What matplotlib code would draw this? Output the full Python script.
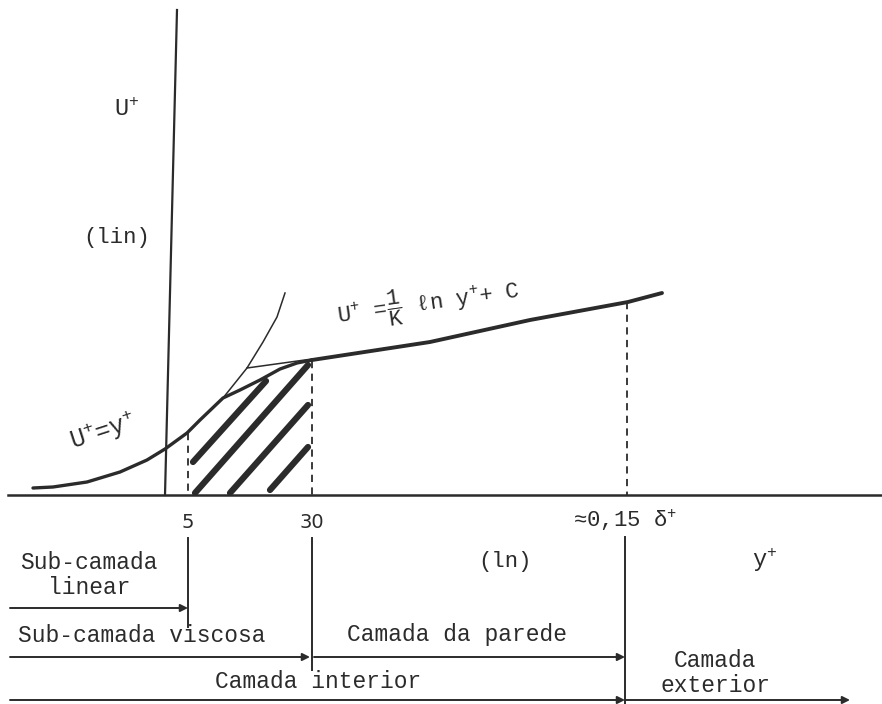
import numpy as np
import matplotlib.pyplot as plt

# pontos (coordenadas do desenho: x para a direita, y para baixo)
visc_x = [33, 53, 87, 120, 147, 165, 187, 200, 223, 240, 260, 280, 297, 312]
visc_y = [488, 487, 482, 472, 460, 449, 433, 420, 398, 390, 380, 369, 363, 360]

lin_ext_x = [200, 223, 247, 263, 277, 285]
lin_ext_y = [420, 398, 368, 342, 317, 293]

log_ext_x = [247, 312]
log_ext_y = [368, 359]

log_x = [312, 430, 530, 628, 662]
log_y = [360, 342, 320, 302, 293]

hatch = [((193, 462), (266, 381)),
         ((195, 493), (308, 365)),
         ((230, 493), (308, 405)),
         ((270, 490), (308, 447))]

# limites das camadas
y_5, y_30, y_out = 188, 312, 627
dash_top = [433, 361, 302]

ink = "#2b2b2b"
plt.rcParams["font.family"] = ["Liberation Mono", "DejaVu Sans"]
plt.rcParams["mathtext.fontset"] = "custom"
plt.rcParams["mathtext.rm"] = "Liberation Mono"
plt.rcParams["mathtext.it"] = "Liberation Mono"

fig = plt.figure(figsize=(8.82, 7.04), dpi=100)
ax = fig.add_axes([0, 0, 1, 1])
ax.set_xlim(0, 882)
ax.set_ylim(704, 0)
ax.axis("off")

# eixos
ax.plot([177, 165], [10, 495], color=ink, lw=1.6)
ax.plot([8, 882], [495, 495], color=ink, lw=1.8)

# curvas
ax.plot(visc_x, visc_y, color=ink, lw=2.4, solid_capstyle="round")
ax.plot(lin_ext_x, lin_ext_y, color=ink, lw=1.1)
ax.plot(log_ext_x, log_ext_y, color=ink, lw=1.1)
ax.plot(log_x, log_y, color=ink, lw=2.8, solid_capstyle="round")

# tracejado
for xv, yt in zip([y_5, y_30, y_out], dash_top):
    ax.plot([xv, xv], [yt, 495], color=ink, lw=1.3, ls=(0, (4, 3)))

# hachura
for (x0, y0), (x1, y1) in hatch:
    ax.plot([x0, x1], [y0, y1], color=ink, lw=4.5, solid_capstyle="round")

# separadores abaixo do eixo
ax.plot([y_5, y_5], [538, 627], color=ink, lw=1.4)
ax.plot([y_30, y_30], [538, 670], color=ink, lw=1.4)
ax.plot([y_out - 2, y_out - 2], [537, 704], color=ink, lw=1.4)

# setas
arr = dict(arrowstyle="-|>", color=ink, lw=1.4, mutation_scale=11, shrinkA=0, shrinkB=0)
ax.annotate("", xy=(y_5, 608), xytext=(10, 608), arrowprops=arr)
ax.annotate("", xy=(y_30 - 2, 657), xytext=(10, 657), arrowprops=arr)
ax.annotate("", xy=(y_out - 2, 657), xytext=(y_30 + 2, 657), arrowprops=arr)
ax.annotate("", xy=(y_out - 2, 700), xytext=(10, 700), arrowprops=arr)
ax.annotate("", xy=(850, 700), xytext=(y_out - 2, 700), arrowprops=arr)

# textos
ax.text(127, 110, "U$^{+}$", ha="center", va="center", fontsize=17, color=ink)
ax.text(117, 238, "(lin)", ha="center", va="center", fontsize=16, color=ink)
ax.text(103, 432, "U$^{+}$=y$^{+}$", ha="center", va="center", fontsize=18,
        rotation=18, color=ink)
ax.text(428, 303, r"U$^{+}$ =$\dfrac{1}{K}$ $\ell$n y$^{+}$+ C", ha="center",
        va="center", fontsize=16, rotation=8, color=ink)

ax.text(188, 522, "5", ha="center", va="center", fontsize=14, color=ink,
        family="DejaVu Sans")
ax.text(312, 522, "30", ha="center", va="center", fontsize=14, color=ink,
        family="DejaVu Sans")
ax.text(625, 520, "≈0,15 δ$^{+}$", ha="center", va="center", fontsize=16, color=ink)
ax.text(505, 562, "(ln)", ha="center", va="center", fontsize=16, color=ink)
ax.text(765, 560, "y$^{+}$", ha="center", va="center", fontsize=17, color=ink)

ax.text(89, 575, "Sub-camada\nlinear", ha="center", va="center", fontsize=16.5,
        color=ink, linespacing=1.1)
ax.text(18, 635, "Sub-camada viscosa", ha="left", va="center", fontsize=16.5, color=ink)
ax.text(347, 635, "Camada da parede", ha="left", va="center", fontsize=16.5, color=ink)
ax.text(318, 682, "Camada interior", ha="center", va="center", fontsize=16.5, color=ink)
ax.text(715, 673, "Camada\nexterior", ha="center", va="center", fontsize=16.5,
        color=ink, linespacing=1.1)

fig.savefig("out.png", dpi=100, facecolor="white")
